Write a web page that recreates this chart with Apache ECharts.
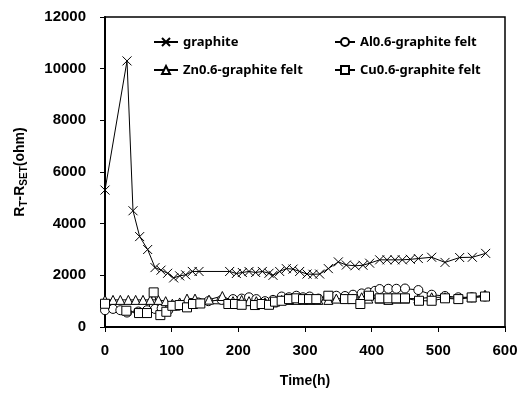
<!DOCTYPE html>
<html>
<head>
<meta charset="utf-8">
<script src="https://cdn.jsdelivr.net/npm/echarts@6/dist/echarts.min.js"></script>
<style>
  html, body { margin: 0; padding: 0; background: #fff; }
  #chart { width: 521px; height: 393px; }
</style>
</head>
<body>
<div id="chart"></div>
<script>
// time (h) and resistance (ohm)
const graphiteTime = [0, 33, 42, 52, 64, 75, 84, 94, 103, 112, 121, 131, 141, 187, 197, 206, 216, 226, 236, 246, 252, 262, 272, 282, 292, 303, 312, 322, 335, 350, 362, 375, 387, 397, 412, 423, 435, 446, 458, 470, 490, 510, 532, 551, 571];
const graphiteVal = [5300, 10300, 4500, 3500, 3000, 2300, 2200, 2080, 1900, 1980, 2020, 2150, 2150, 2150, 2070, 2110, 2150, 2110, 2150, 2080, 2000, 2150, 2260, 2240, 2150, 2050, 2040, 2050, 2260, 2520, 2400, 2370, 2390, 2470, 2600, 2600, 2600, 2600, 2620, 2650, 2700, 2500, 2690, 2700, 2850];

const alTime = [0, 12, 23, 33, 50, 63, 75, 85, 95, 110, 125, 140, 155, 175, 192, 205, 216, 227, 240, 252, 265, 276, 287, 297, 307, 320, 335, 347, 360, 372, 385, 395, 405, 412, 425, 437, 450, 470, 490, 510, 530, 550, 570];
const alVal = [650, 700, 650, 560, 600, 650, 700, 720, 650, 820, 900, 950, 1000, 1050, 1080, 1100, 1150, 1080, 1000, 1050, 1180, 1150, 1210, 1150, 1180, 1100, 1150, 1210, 1200, 1250, 1300, 1340, 1400, 1470, 1480, 1480, 1490, 1430, 1250, 1200, 1150, 1150, 1180];

const znTime = [0, 12, 23, 35, 46, 57, 68, 80, 91, 101, 112, 123, 135, 156, 176, 192, 205, 216, 227, 240, 252, 265, 276, 287, 297, 307, 320, 335, 347, 360, 372, 385, 395, 412, 425, 437, 450, 470, 490, 510, 530, 550, 570];
const znVal = [1050, 1050, 1050, 1050, 1050, 1050, 1050, 1050, 1000, 900, 950, 1100, 1100, 1060, 1200, 1000, 1050, 1000, 1000, 950, 950, 1050, 1050, 1050, 1050, 1050, 1050, 1050, 1100, 1100, 1100, 1150, 1100, 1100, 1050, 1100, 1100, 1100, 1150, 1150, 1100, 1150, 1250];

const cuTime = [0, 32, 51, 63, 73, 83, 92, 101, 112, 123, 132, 143, 185, 195, 205, 225, 235, 246, 255, 265, 276, 287, 297, 306, 317, 335, 360, 371, 383, 396, 412, 425, 437, 450, 471, 490, 510, 530, 550, 570];
const cuVal = [900, 630, 540, 540, 1340, 460, 590, 820, 850, 760, 890, 910, 890, 890, 860, 850, 890, 860, 980, 1015, 1080, 1110, 1080, 1080, 1080, 1210, 1080, 1080, 890, 1210, 1110, 1110, 1110, 1110, 1015, 1015, 1110, 1080, 1145, 1180];

const xTicks = { min: 0, max: 600, interval: 100 };
const yTicks = { min: 0, max: 12000, interval: 2000 };

const pair = (xs, ys) => xs.map((x, i) => [x, ys[i]]);

const crossPath = 'path://M0,0 L10,10 M10,0 L0,10';

function lineSeries(name, data, symbol, size) {
  return {
    name: name,
    type: 'line',
    data: data,
    symbol: symbol,
    symbolSize: size,
    showAllSymbol: true,
    animation: false,
    lineStyle: { color: '#000', width: 1 },
    itemStyle: {
      color: symbol === crossPath ? 'rgba(0,0,0,0)' : '#fff',
      borderColor: '#000',
      borderWidth: 1
    },
    emphasis: { disabled: true }
  };
}

const chart = echarts.init(document.getElementById('chart'));

const legendText = {
  color: '#000',
  fontFamily: 'Noto Sans',
  fontWeight: 'bold',
  fontSize: 13,
  lineHeight: 14
};

const tickFont = { color: '#000', fontSize: 15, fontWeight: 'bold', fontFamily: 'Liberation Sans' };

chart.setOption({
  backgroundColor: '#fff',
  animation: false,
  grid: {
    left: 105, right: 16, top: 17, bottom: 65,
    show: true,
    borderColor: '#000',
    borderWidth: 1.5
  },
  legend: [
    {
      data: ['graphite', 'Zn0.6-graphite felt'],
      orient: 'vertical',
      left: 153, top: 35, padding: 0,
      itemWidth: 24, itemHeight: 10, itemGap: 14,
      textStyle: legendText
    },
    {
      data: ['Al0.6-graphite felt', 'Cu0.6-graphite felt'],
      orient: 'vertical',
      left: 334, top: 35, padding: 0,
      itemWidth: 20, itemHeight: 10, itemGap: 14,
      textStyle: legendText
    }
  ],
  xAxis: {
    type: 'value',
    min: xTicks.min, max: xTicks.max, interval: xTicks.interval,
    name: 'Time(h)',
    nameLocation: 'middle',
    nameGap: 47,
    nameTextStyle: { color: '#000', fontSize: 14, fontWeight: 'bold', fontFamily: 'Liberation Sans' },
    axisLine: { lineStyle: { color: '#000', width: 2 } },
    axisTick: { inside: false, length: 5, lineStyle: { color: '#000', width: 1 } },
    axisLabel: Object.assign({ margin: 16 }, tickFont),
    splitLine: { show: false }
  },
  yAxis: {
    type: 'value',
    min: yTicks.min, max: yTicks.max, interval: yTicks.interval,
    name: '{b|R}{s|T}{b|-R}{s|SET}{b|(ohm)}',
    nameLocation: 'middle',
    nameRotate: 90,
    nameGap: 76,
    nameTextStyle: {
      color: '#000',
      rich: {
        b: { fontSize: 14, fontWeight: 'bold', fontFamily: 'Liberation Sans', color: '#000', lineHeight: 18, verticalAlign: 'middle' },
        s: { fontSize: 10, fontWeight: 'bold', fontFamily: 'Liberation Sans', color: '#000', lineHeight: 18, verticalAlign: 'bottom' }
      }
    },
    axisLine: { show: true, lineStyle: { color: '#000', width: 2 } },
    axisTick: { show: true, inside: false, length: 5, lineStyle: { color: '#000', width: 1 } },
    axisLabel: Object.assign({ margin: 19, formatter: v => String(v) }, tickFont),
    splitLine: { show: false }
  },
  series: [
    lineSeries('graphite', pair(graphiteTime, graphiteVal), crossPath, 9),
    lineSeries('Al0.6-graphite felt', pair(alTime, alVal), 'circle', 9),
    lineSeries('Zn0.6-graphite felt', pair(znTime, znVal), 'triangle', 9),
    lineSeries('Cu0.6-graphite felt', pair(cuTime, cuVal), 'rect', 9)
  ]
});
</script>
</body>
</html>
